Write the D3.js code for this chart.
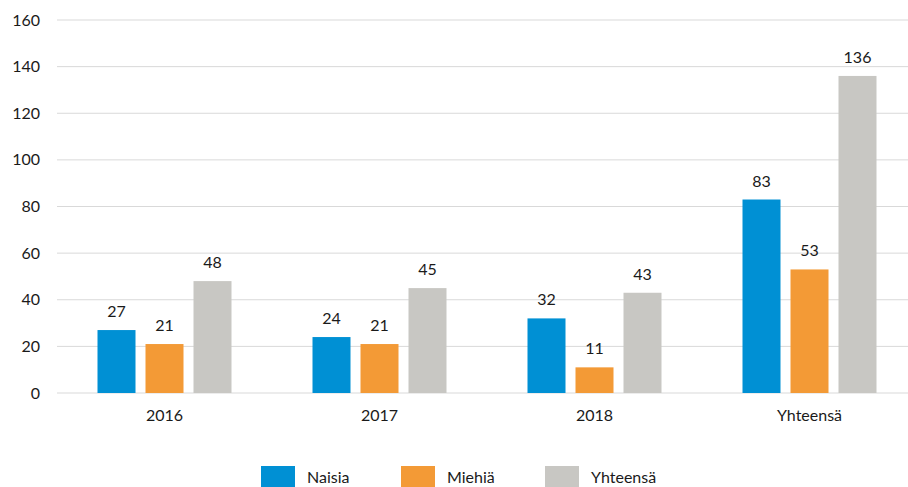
<!DOCTYPE html>
<html>
<head>
<meta charset="utf-8">
<script src="https://cdn.jsdelivr.net/npm/d3@7"></script>
<style>
body { margin: 0; background: #fff; }
text { font-family: Lato, "Open Sans", sans-serif; fill: #1a1a1a; }
</style>
</head>
<body>
<div id="chart"></div>
<script>
const categories = ['2016', '2017', '2018', 'Yhteensä'];
const seriesNames = ['Naisia', 'Miehiä', 'Yhteensä'];
const naisia = [27, 24, 32, 83];
const miehia = [21, 21, 11, 53];
const yhteensa = [48, 45, 43, 136];
const yTicks = [0, 20, 40, 60, 80, 100, 120, 140, 160];
const colors = ['#0090d4', '#f39a36', '#c8c7c3'];

const width = 908, height = 487;
const seriesValues = [naisia, miehia, yhteensa];

let svg = d3.select('#chart')
    .append('svg')
    .attr('width', width)
    .attr('height', height);

let x0 = d3.scaleBand()
    .domain(categories)
    .range([57, 917]);

let x1 = d3.scaleBand()
    .domain(seriesNames)
    .range([40.5, 174.5])
    .paddingInner(10 / 48);

let y = d3.scaleLinear()
    .domain([0, 160])
    .range([393, 20]);

// gridlines
svg.append('g')
    .selectAll('line')
    .data(yTicks)
    .enter()
    .append('line')
    .attr('x1', 57)
    .attr('x2', width)
    .attr('y1', d => y(d))
    .attr('y2', d => y(d))
    .attr('stroke', '#d9d9d9')
    .attr('stroke-width', 1);

// y labels
svg.append('g')
    .selectAll('text')
    .data(yTicks)
    .enter()
    .append('text')
    .attr('x', 40)
    .attr('y', d => y(d))
    .attr('dy', '0.35em')
    .attr('text-anchor', 'end')
    .style('font-size', '16px')
    .text(d => d);

// bars
let groups = svg.append('g')
    .selectAll('g')
    .data(categories)
    .enter()
    .append('g')
    .attr('transform', d => 'translate(' + x0(d) + ',0)');

groups.selectAll('rect')
    .data((c, i) => seriesNames.map((s, j) => ({ s: s, v: seriesValues[j][i], j: j })))
    .enter()
    .append('rect')
    .attr('x', d => x1(d.s))
    .attr('width', x1.bandwidth())
    .attr('y', d => y(d.v))
    .attr('height', d => y(0) - y(d.v))
    .attr('fill', d => colors[d.j]);

groups.selectAll('text.val')
    .data((c, i) => seriesNames.map((s, j) => ({ s: s, v: seriesValues[j][i] })))
    .enter()
    .append('text')
    .attr('class', 'val')
    .attr('x', d => x1(d.s) + x1.bandwidth() / 2)
    .attr('y', d => y(d.v) - 13)
    .attr('text-anchor', 'middle')
    .style('font-size', '16px')
    .text(d => d.v);

// category labels
svg.append('g')
    .selectAll('text')
    .data(categories)
    .enter()
    .append('text')
    .attr('x', d => x0(d) + x0.bandwidth() / 2)
    .attr('y', 421)
    .attr('text-anchor', 'middle')
    .style('font-size', '16px')
    .text(d => d);

// legend
const legendX = [261, 401, 545];
let legend = svg.append('g')
    .selectAll('g')
    .data(seriesNames)
    .enter()
    .append('g')
    .attr('transform', (d, i) => 'translate(' + legendX[i] + ',466)');

legend.append('rect')
    .attr('width', 34)
    .attr('height', 21)
    .attr('fill', (d, i) => colors[i]);

legend.append('text')
    .attr('x', 46)
    .attr('y', 17)
    .style('font-size', '16px')
    .text(d => d);
</script>
</body>
</html>
